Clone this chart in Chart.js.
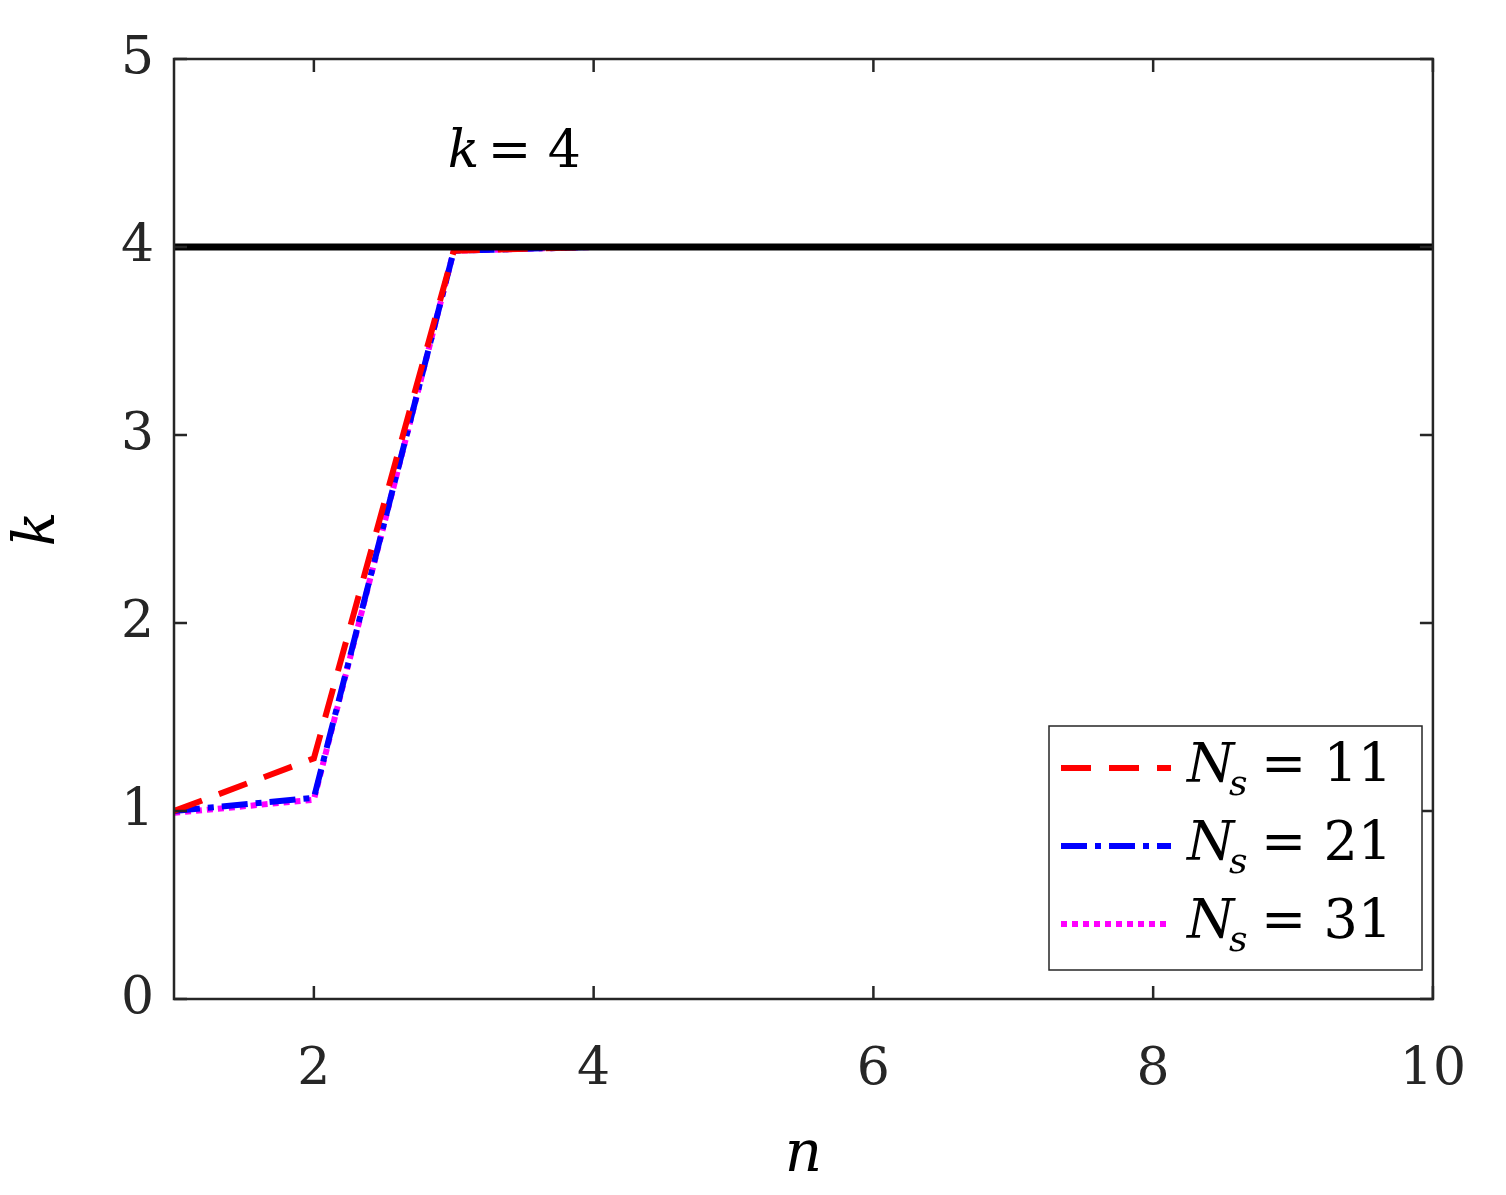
<!DOCTYPE html>
<html>
<head>
<meta charset="utf-8">
<script src="https://cdn.jsdelivr.net/npm/chart.js@4.4.1/dist/chart.umd.min.js"></script>
<style>
  html, body { margin: 0; padding: 0; background: #fff; }
  #wrap { width: 1506px; height: 1195px; }
</style>
</head>
<body>
<div id="wrap"><canvas id="c" width="1506" height="1195"></canvas></div>
<script>
const nValues = [1, 2, 3, 4, 5, 6, 7, 8, 9, 10];
const kNs11 = [1.0, 1.28, 3.98, 4, 4, 4, 4, 4, 4, 4];
const kNs21 = [1.0, 1.07, 3.98, 4, 4, 4, 4, 4, 4, 4];
const kNs31 = [0.99, 1.06, 3.98, 4, 4, 4, 4, 4, 4, 4];
const kTrue = [4, 4];
const xTicks = [2, 4, 6, 8, 10];
const yTicks = [0, 1, 2, 3, 4, 5];
const seriesLabels = ["11", "21", "31"];

const serif = "'DejaVu Serif', 'Liberation Serif', serif";
const toXY = (ys) => nValues.map((n, i) => ({ x: n, y: ys[i] }));

// frame + inward ticks on all four sides
const framePlugin = {
  id: "frame",
  afterDraw(chart) {
    const { ctx, chartArea: a, scales } = chart;
    ctx.save();
    ctx.strokeStyle = "#262626";
    ctx.lineWidth = 2.5;
    ctx.strokeRect(a.left, a.top, a.right - a.left, a.bottom - a.top);
    const len = 13;
    xTicks.forEach((v) => {
      const px = scales.x.getPixelForValue(v);
      ctx.beginPath();
      ctx.moveTo(px, a.bottom); ctx.lineTo(px, a.bottom - len);
      ctx.moveTo(px, a.top); ctx.lineTo(px, a.top + len);
      ctx.stroke();
    });
    yTicks.forEach((v) => {
      const py = scales.y.getPixelForValue(v);
      ctx.beginPath();
      ctx.moveTo(a.left, py); ctx.lineTo(a.left + len, py);
      ctx.moveTo(a.right, py); ctx.lineTo(a.right - len, py);
      ctx.stroke();
    });

    // annotation k = 4
    const tx = scales.x.getPixelForValue(3.5);
    const ty = scales.y.getPixelForValue(4.5);
    ctx.fillStyle = "#000";
    ctx.textBaseline = "middle";
    ctx.font = "italic 52px " + serif;
    ctx.fillText("k", tx - 76, ty);
    ctx.font = "52px " + serif;
    ctx.fillText("= 4", tx - 36, ty);

    // legend
    const lx = 1049, ly = 726, lw = 373, lh = 244;
    ctx.fillStyle = "#fff";
    ctx.fillRect(lx, ly, lw, lh);
    ctx.strokeStyle = "#262626";
    ctx.lineWidth = 1.5;
    ctx.strokeRect(lx, ly, lw, lh);
    chart.data.datasets.slice(1, 4).forEach((ds, i) => {
      const yy = ly + 42 + i * 78;
      ctx.save();
      ctx.strokeStyle = ds.borderColor;
      ctx.lineWidth = ds.borderWidth;
      ctx.setLineDash(ds.borderDash);
      ctx.beginPath();
      ctx.moveTo(lx + 12, yy); ctx.lineTo(lx + 122, yy);
      ctx.stroke();
      ctx.restore();
      ctx.fillStyle = "#000";
      ctx.textBaseline = "middle";
      ctx.font = "italic 54px " + serif;
      ctx.fillText("N", lx + 138, yy);
      ctx.font = "italic 36px " + serif;
      ctx.fillText("s", lx + 180, yy + 18);
      ctx.font = "54px " + serif;
      ctx.fillText("= " + seriesLabels[i], lx + 212, yy);
    });
    ctx.restore();
  },
};

new Chart(document.getElementById("c"), {
  type: "line",
  data: {
    datasets: [
      { data: [{ x: 1, y: kTrue[0] }, { x: 10, y: kTrue[1] }], borderColor: "#000", borderWidth: 7, borderDash: [] },
      { data: toXY(kNs11), borderColor: "#ff0000", borderWidth: 6, borderDash: [30, 18] },
      { data: toXY(kNs21), borderColor: "#0000ff", borderWidth: 6, borderDash: [26, 8, 6, 8] },
      { data: toXY(kNs31), borderColor: "#ff00ff", borderWidth: 6, borderDash: [6, 5] },
    ],
  },
  options: {
    responsive: false,
    animation: false,
    layout: { padding: { top: 59, right: 31, left: 0, bottom: 0 } },
    elements: { point: { radius: 0 }, line: { tension: 0 } },
    plugins: { legend: { display: false }, tooltip: { enabled: false } },
    scales: {
      x: {
        type: "linear", min: 1, max: 10,
        afterBuildTicks: (s) => { s.ticks = xTicks.map((v) => ({ value: v })); },
        afterFit: (s) => { s.height = 196; },
        grid: { display: false, drawTicks: false },
        border: { display: false },
        ticks: { color: "#262626", padding: 40, font: { family: serif, size: 52 } },
        title: { display: true, text: "n", color: "#000", padding: { top: 10 }, font: { family: serif, size: 58, style: "italic" } },
      },
      y: {
        min: 0, max: 5,
        afterBuildTicks: (s) => { s.ticks = yTicks.map((v) => ({ value: v })); },
        afterFit: (s) => { s.width = 174; },
        grid: { display: false, drawTicks: false },
        border: { display: false },
        ticks: { color: "#262626", padding: 20, font: { family: serif, size: 52 } },
        title: { display: true, text: "k", color: "#000", padding: { bottom: 30 }, font: { family: serif, size: 58, style: "italic" } },
      },
    },
  },
  plugins: [framePlugin],
});
</script>
</body>
</html>
